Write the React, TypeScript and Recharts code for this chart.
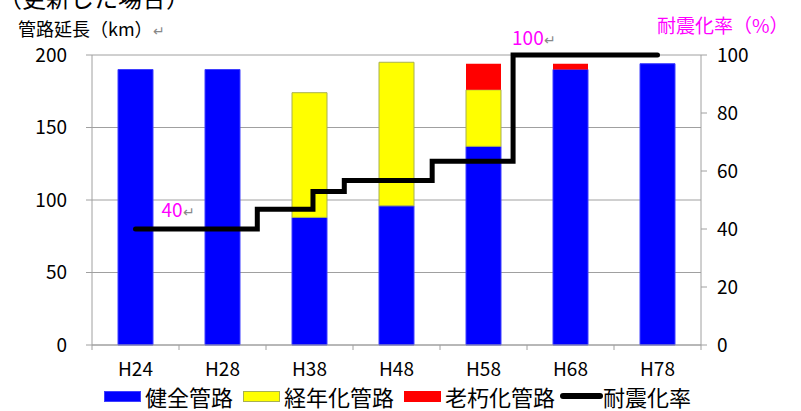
import { ComposedChart, Bar, Line, XAxis, YAxis, CartesianGrid, Legend, LabelList } from 'recharts';

// 更新した場合の管路延長 (km)
const years = ['H24', 'H28', 'H38', 'H48', 'H58', 'H68', 'H78'];
const soundPipe = [190, 190, 88, 96, 137, 190, 194];
const agingPipe = [0, 0, 86, 99, 39, 0, 0];
const oldPipe = [0, 0, 0, 0, 18, 4, 0];

// 耐震化率 (%) — step line, x in category units
const stepPos = [0.5, 1.9, 2.54, 2.9, 3.91, 4.84, 6.5];
const quakeRate = [40, 46.8, 52.9, 56.7, 63.4, 100, 100];

const leftTicks = [0, 50, 100, 150, 200];
const rightTicks = [0, 20, 40, 60, 80, 100];

const seriesNames = ['健全管路', '経年化管路', '老朽化管路', '耐震化率'];

const barData = years.map((y, i) => ({
  year: y,
  sound: soundPipe[i],
  aging: agingPipe[i],
  old: oldPipe[i],
}));

const rateData = stepPos.map((p, i) => ({ pos: p, rate: quakeRate[i] }));

const FONT = "'Noto Sans CJK JP', 'Noto Sans', sans-serif";
const AXIS = '#a0a0a0';

function YearTick(props: any) {
  const { x, y, payload, index } = props;
  const half = payload && payload.offset ? payload.offset : 43.5;
  return (
    <g>
      <line x1={x - half} y1={y} x2={x - half} y2={y + 5} stroke={AXIS} />
      {index === years.length - 1 && (
        <line x1={x + half} y1={y} x2={x + half} y2={y + 5} stroke={AXIS} />
      )}
      <text x={x} y={y + 31} textAnchor="middle" fontSize={19} fill="#000">
        {payload.value}
      </text>
    </g>
  );
}

function RateLabel(props: any) {
  const { x, y, index, value } = props;
  if (index !== 0 && index !== 5) return null;
  const dx = index === 0 ? 26 : -1;
  const dy = index === 0 ? -12 : -10;
  return (
    <text x={x + dx} y={y + dy} fill="#FF00FF" fontSize={19}>
      {value}
      <tspan fill="#888" fontSize={14}>↵</tspan>
    </text>
  );
}

function renderLegend() {
  const swatch = (i: number) => {
    if (i === 3) {
      return <div style={{ width: 43, height: 6, background: '#000', borderRadius: 3 }} />;
    }
    const colors = ['#0000FF', '#FFFF00', '#FF0000'];
    const borders = ['#3f3fff', '#a8b050', '#ff0000'];
    return (
      <div
        style={{
          width: 35,
          height: 9,
          background: colors[i],
          border: `1px solid ${borders[i]}`,
          marginRight: 4,
        }}
      />
    );
  };
  return (
    <div
      style={{
        display: 'flex',
        alignItems: 'center',
        height: 30,
        paddingLeft: 104,
        fontSize: 22,
        color: '#000',
        fontFamily: FONT,
      }}
    >
      {seriesNames.map((n, i) => (
        <div key={n} style={{ display: 'flex', alignItems: 'center', marginRight: i === 2 ? 5 : 10 }}>
          {swatch(i)}
          <span style={{ lineHeight: 1 }}>{n}</span>
        </div>
      ))}
    </div>
  );
}

export default function App() {
  return (
    <div style={{ position: 'absolute', left: 0, top: 0, width: 801, height: 411, fontFamily: FONT, overflow: 'hidden', background: '#fff' }}>
      <div style={{ position: 'absolute', left: -2, top: -15, fontSize: 24, lineHeight: 1, whiteSpace: 'nowrap' }}>
        （更新した場合）
      </div>
      <div style={{ position: 'absolute', left: 18, top: 19, fontSize: 18, lineHeight: 1, whiteSpace: 'nowrap' }}>
        管路延長（km）<span style={{ color: '#888', fontSize: 14 }}>↵</span>
      </div>
      <div style={{ position: 'absolute', left: 657, top: 15, fontSize: 19, lineHeight: 1, color: '#FF00FF', whiteSpace: 'nowrap' }}>
        耐震化率（%）
      </div>
      <ComposedChart
        width={801}
        height={411}
        data={barData}
        margin={{ top: 55, right: 40, left: 32, bottom: 0 }}
      >
        <CartesianGrid yAxisId="left" vertical={false} stroke={AXIS} />
        <XAxis
          dataKey="year"
          xAxisId="cat"
          height={36}
          stroke={AXIS}
          tickLine={false}
          tickSize={0}
          tickMargin={0}
          tick={<YearTick />}
          interval={0}
        />
        <XAxis xAxisId="rate" dataKey="pos" type="number" domain={[0, 7]} allowDataOverflow hide />
        <YAxis
          yAxisId="left"
          width={60}
          domain={[0, 200]}
          ticks={leftTicks}
          stroke={AXIS}
          tickSize={6}
          tickMargin={19}
          tick={{ fill: '#000', fontSize: 19 }}
        />
        <YAxis
          yAxisId="right"
          orientation="right"
          width={60}
          domain={[0, 100]}
          ticks={rightTicks}
          stroke={AXIS}
          tickSize={6}
          tickMargin={10}
          tick={{ fill: '#000', fontSize: 19, textAnchor: 'start' }}
        />
        <Bar dataKey="sound" name={seriesNames[0]} stackId="a" xAxisId="cat" yAxisId="left" fill="#0000FF" stroke="#3f3fff" barSize={35} isAnimationActive={false} />
        <Bar dataKey="aging" name={seriesNames[1]} stackId="a" xAxisId="cat" yAxisId="left" fill="#FFFF00" stroke="#a8b050" barSize={35} isAnimationActive={false} />
        <Bar dataKey="old" name={seriesNames[2]} stackId="a" xAxisId="cat" yAxisId="left" fill="#FF0000" barSize={35} isAnimationActive={false} />
        <Line
          data={rateData}
          dataKey="rate"
          name={seriesNames[3]}
          xAxisId="rate"
          yAxisId="right"
          type="stepAfter"
          stroke="#000"
          strokeWidth={5}
          strokeLinecap="round"
          dot={false}
          activeDot={false}
          isAnimationActive={false}
        >
          <LabelList dataKey="rate" content={<RateLabel />} />
        </Line>
        <Legend verticalAlign="bottom" height={30} wrapperStyle={{ left: 0, width: 801 }} content={renderLegend} />
      </ComposedChart>
    </div>
  );
}
